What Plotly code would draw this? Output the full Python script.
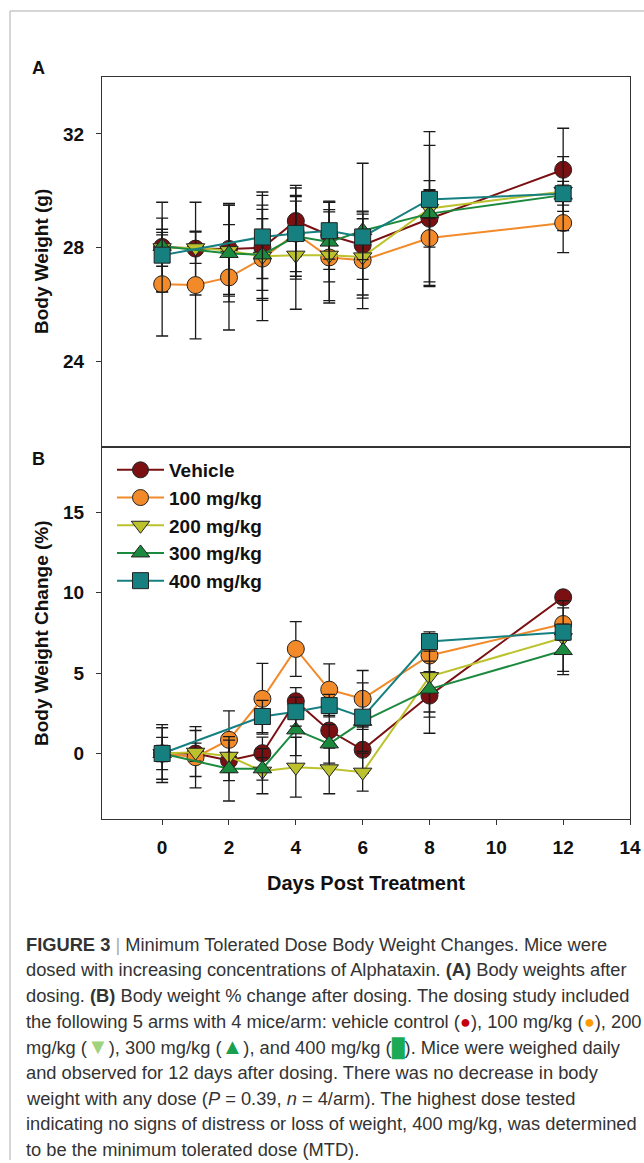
import plotly.graph_objects as go

# ---------------- data ----------------
days = [0, 1, 2, 3, 4, 5, 6, 8, 12]
series_names = ["Vehicle", "100 mg/kg", "200 mg/kg", "300 mg/kg", "400 mg/kg"]

# Panel A: body weight (g)
veh_w = [28.03, 27.97, 27.96, 28.0, 28.94, 28.44, 28.09, 29.02, 30.74]
p100_w = [26.72, 26.69, 26.96, 27.62, 28.5, 27.66, 27.56, 28.34, 28.87]
p200_w = [28.0, 28.0, 27.9, 27.7, 27.74, 27.74, 27.68, 29.38, 29.98]
p300_w = [28.05, None, 27.8, 27.75, 28.4, 28.2, 28.6, 29.2, 29.85]
p400_w = [27.74, None, None, 28.38, 28.5, 28.6, 28.38, 29.7, 29.9]

veh_w_sd = [1.57, 1.63, 1.6, 1.5, 1.25, 1.2, 1.2, 1.0, 1.46]
p100_w_sd = [1.82, 1.89, 1.85, 1.4, 1.6, 1.6, 1.7, 1.7, 1.04]
p200_w_sd = [0.65, 0.55, 1.6, 2.26, 1.9, 1.6, 1.34, 2.7, 0.35]
p300_w_sd = [0.4, 0, 1.7, 1.6, 1.4, 1.4, 2.37, 2.4, 0.35]
p400_w_sd = [1.3, 0, 0, 1.46, 1.34, 1.0, 0.8, 0.66, 1.3]

# Panel B: body weight change (%)
veh_c = [0.0, 0.0, -0.43, 0.02, 3.25, 1.43, 0.23, 3.6, 9.71]
p100_c = [0.0, -0.23, 0.85, 3.4, 6.5, 3.97, 3.4, 6.09, 8.05]
p200_c = [0.0, 0.08, -0.17, -1.1, -0.85, -0.95, -1.16, 4.78, 7.2]
p300_c = [0.0, None, -0.95, -0.95, 1.47, 0.6, 2.0, 4.0, 6.4]
p400_c = [0.0, None, None, 2.3, 2.6, 2.98, 2.26, 6.96, 7.54]

veh_c_sd = [1.6, 1.43, 1.25, 1.0, 0.85, 1.1, 1.47, 2.34, 0.25]
p100_c_sd = [1.8, 1.9, 1.8, 2.2, 1.7, 1.6, 1.76, 1.0, 1.0]
p200_c_sd = [1.0, 0.56, 1.0, 1.4, 1.86, 1.55, 1.18, 2.2, 2.3]
p300_c_sd = [0.5, 0, 2.0, 0.7, 1.6, 1.2, 0.5, 1.74, 1.3]
p400_c_sd = [0.4, 0, 0, 1.0, 0.9, 0.7, 2.13, 0.6, 0.5]

x_ticks = [0, 2, 4, 6, 8, 10, 12, 14]
yA_ticks = [24, 28, 32]
yB_ticks = [0, 5, 10, 15]

# ---------------- style ----------------
W, H = 644, 1160
colors = ["#7a1012", "#f28a2a", "#bcc22c", "#1c8a3e", "#168080"]
symbols = ["circle", "circle", "triangle-down", "triangle-up", "square"]
sizes = [17, 17, 16, 16, 16]
FONT = "Liberation Sans, Arial, sans-serif"


def fx(px):
    return px / W


def fy(py):
    return 1 - py / H


weights = [veh_w, p100_w, p200_w, p300_w, p400_w]
weights_sd = [veh_w_sd, p100_w_sd, p200_w_sd, p300_w_sd, p400_w_sd]
changes = [veh_c, p100_c, p200_c, p300_c, p400_c]
changes_sd = [veh_c_sd, p100_c_sd, p200_c_sd, p300_c_sd, p400_c_sd]

fig = go.Figure()


def err(arr):
    return dict(type="data", array=arr, visible=True, color="#1a1a1a",
                thickness=1.3, width=6)


for i, name in enumerate(series_names):
    fig.add_trace(go.Scatter(
        x=days, y=weights[i], error_y=err(weights_sd[i]),
        mode="lines+markers", connectgaps=True, name=name,
        line=dict(color=colors[i], width=2),
        marker=dict(symbol=symbols[i], size=sizes[i], color=colors[i],
                    line=dict(color="#222222", width=1)),
        xaxis="x2", yaxis="y2", showlegend=False))

for i, name in enumerate(series_names):
    fig.add_trace(go.Scatter(
        x=days, y=changes[i], error_y=err(changes_sd[i]),
        mode="lines+markers", connectgaps=True, name=name,
        line=dict(color=colors[i], width=2),
        marker=dict(symbol=symbols[i], size=sizes[i], color=colors[i],
                    line=dict(color="#222222", width=1)),
        xaxis="x", yaxis="y", showlegend=True))

axis_common = dict(showline=True, linecolor="#333333", linewidth=1.3,
                   mirror=True, showgrid=False, zeroline=False,
                   automargin=False,
                   ticks="outside", ticklen=5, tickwidth=1.2,
                   tickcolor="#333333",
                   tickfont=dict(family=FONT, size=19, color="#111111",
                                 weight="bold"))

x_dom = [fx(102), fx(630)]

fig.update_layout(
    width=W, height=H, autosize=False,
    margin=dict(l=0, r=0, t=0, b=0, pad=0, autoexpand=False),
    paper_bgcolor="white", plot_bgcolor="white",
    font=dict(family=FONT, color="#111111"),
    xaxis=dict(domain=x_dom, range=[-1.8, 14], anchor="y",
               tickvals=x_ticks, ticklabelstandoff=6, **axis_common),
    yaxis=dict(domain=[fy(819), fy(447)], range=[-4.07, 19.05], anchor="x",
               tickvals=yB_ticks, ticklabelstandoff=8, **axis_common),
    xaxis2=dict(domain=x_dom, range=[-1.8, 14], anchor="y2",
                showticklabels=False,
                **{k: v for k, v in axis_common.items() if k not in ("ticks",)},
                ),
    yaxis2=dict(domain=[fy(447), fy(77)], range=[21.0, 34.0], anchor="x2",
                tickvals=yA_ticks, ticklabelstandoff=8, **axis_common),
    legend=dict(x=fx(112), y=fy(451), xanchor="left", yanchor="top",
                bgcolor="rgba(0,0,0,0)", borderwidth=0, itemwidth=47,
                font=dict(family=FONT, size=19, color="#111111",
                          weight="bold"),
                tracegroupgap=0),
    showlegend=True,
)
fig.update_xaxes(selector=dict(anchor="y2"), ticks="")

annotations = []


def ann(text, x, y, size=19, bold=True, angle=0, xanchor="center",
        color="#111111", family=FONT):
    annotations.append(dict(
        text=text, x=fx(x), y=fy(y), xref="paper", yref="paper",
        showarrow=False, xanchor=xanchor, yanchor="middle", textangle=angle,
        font=dict(family=family, size=size, color=color,
                  weight="bold" if bold else "normal")))


ann("A", 38, 68, size=18)
ann("B", 38, 459, size=18)
ann("Body Weight (g)", 41, 262, size=19, angle=-90)
ann("Body Weight Change (%)", 41, 633, size=19, angle=-90)
ann("Days Post Treatment", 366, 883, size=20)

CAP_FONT = "Liberation Sans, Arial, sans-serif"
caption_lines = [
    "<b>FIGURE 3</b> <span style='color:#aaaaaa'>|</span> Minimum Tolerated Dose Body Weight Changes. Mice were",
    "dosed with increasing concentrations of Alphataxin. <b>(A)</b> Body weights after",
    "dosing. <b>(B)</b> Body weight % change after dosing. The dosing study included",
    "the following 5 arms with 4 mice/arm: vehicle control (<span style='color:#c40010'>●</span>), 100 mg/kg (<span style='color:#ff9a00'>●</span>), 200",
    "mg/kg (<span style='color:#9fd37e;font-size:22px'>▼</span>), 300 mg/kg (<span style='color:#18a050;font-size:22px'>▲</span>), and 400 mg/kg (<span style='color:#1aaa55'>█</span>). Mice were weighed daily",
    "and observed for 12 days after dosing. There was no decrease in body",
    "weight with any dose (<i>P</i> = 0.39, <i>n</i> = 4/arm). The highest dose tested",
    "indicating no signs of distress or loss of weight, 400 mg/kg, was determined",
    "to be the minimum tolerated dose (MTD).",
]
for k, line in enumerate(caption_lines):
    ann(line, 24, 944 + 25.7 * k, size=18.3, bold=False, xanchor="left",
        color="#333333", family=CAP_FONT)

fig.update_layout(annotations=annotations)

# thin grey page frame (left and top edges)
fig.update_layout(shapes=[
    dict(type="line", xref="paper", yref="paper", x0=fx(10), x1=fx(10),
         y0=0, y1=fy(11), line=dict(color="#c8c8c8", width=1.5)),
    dict(type="line", xref="paper", yref="paper", x0=fx(10), x1=1,
         y0=fy(11), y1=fy(11), line=dict(color="#c8c8c8", width=1.5)),
])

fig.write_html("out.html")
